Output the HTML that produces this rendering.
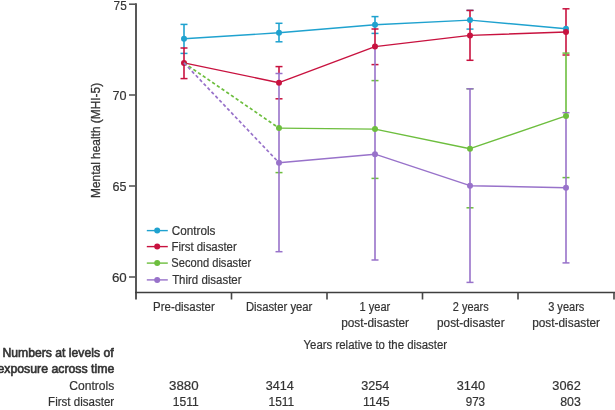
<!DOCTYPE html>
<html><head><meta charset="utf-8"><style>
html,body{margin:0;padding:0;background:#fff;}
body{width:615px;height:410px;overflow:hidden;font-family:"Liberation Sans",sans-serif;}
svg{display:block;will-change:transform;}
</style></head><body>
<svg width="615" height="410" viewBox="0 0 615 410">
<g stroke="#585858" fill="none">
<line x1="136" y1="3.2" x2="136" y2="299.5" stroke-width="2"/>
<line x1="129" y1="4.2" x2="136" y2="4.2" stroke-width="1.6"/>
<line x1="129" y1="95" x2="136" y2="95" stroke-width="1.6"/>
<line x1="129" y1="186" x2="136" y2="186" stroke-width="1.6"/>
<line x1="129" y1="277" x2="136" y2="277" stroke-width="1.6"/>
<line x1="135" y1="292.5" x2="615" y2="292.5" stroke-width="1.5" stroke="#3e3e3e"/>
<line x1="231.5" y1="292" x2="231.5" y2="299.5" stroke-width="1.6" stroke="#454545"/>
<line x1="327" y1="292" x2="327" y2="299.5" stroke-width="1.6" stroke="#454545"/>
<line x1="422.5" y1="292" x2="422.5" y2="299.5" stroke-width="1.6" stroke="#454545"/>
<line x1="518" y1="292" x2="518" y2="299.5" stroke-width="1.6" stroke="#454545"/>
<line x1="614" y1="292" x2="614" y2="299.5" stroke-width="1.6" stroke="#454545"/>
</g>
<text transform="translate(100.4,140.4) rotate(-90)" text-anchor="middle" font-family="Liberation Sans, sans-serif" font-size="12" fill="#333333" stroke="#333333" stroke-width="0.3" textLength="115" lengthAdjust="spacingAndGlyphs">Mental health (MHI-5)</text>
<line x1="184" y1="24.4" x2="184" y2="48.6" stroke="#1fa2cf" stroke-width="1.6"/><line x1="180.5" y1="24.4" x2="187.5" y2="24.4" stroke="#1fa2cf" stroke-width="1.5"/><line x1="180.5" y1="53.4" x2="187.5" y2="53.4" stroke="#1fa2cf" stroke-width="1.5"/><line x1="279" y1="23.3" x2="279" y2="41.8" stroke="#1fa2cf" stroke-width="1.6"/><line x1="275.5" y1="23.3" x2="282.5" y2="23.3" stroke="#1fa2cf" stroke-width="1.5"/><line x1="275.5" y1="41.8" x2="282.5" y2="41.8" stroke="#1fa2cf" stroke-width="1.5"/><line x1="375" y1="16.6" x2="375" y2="29.6" stroke="#1fa2cf" stroke-width="1.6"/><line x1="371.5" y1="16.6" x2="378.5" y2="16.6" stroke="#1fa2cf" stroke-width="1.5"/><line x1="371.5" y1="33.4" x2="378.5" y2="33.4" stroke="#1fa2cf" stroke-width="1.5"/><line x1="470" y1="10.4" x2="470" y2="11.0" stroke="#1fa2cf" stroke-width="1.6"/><line x1="466.5" y1="10.4" x2="473.5" y2="10.4" stroke="#1fa2cf" stroke-width="1.5"/><line x1="466.5" y1="29.1" x2="473.5" y2="29.1" stroke="#1fa2cf" stroke-width="1.5"/>
<line x1="184" y1="48.0" x2="184" y2="78.6" stroke="#c8123f" stroke-width="1.6"/><line x1="180.5" y1="48.0" x2="187.5" y2="48.0" stroke="#c8123f" stroke-width="1.5"/><line x1="180.5" y1="78.6" x2="187.5" y2="78.6" stroke="#c8123f" stroke-width="1.5"/><line x1="279" y1="66.6" x2="279" y2="74.1" stroke="#c8123f" stroke-width="1.6"/><line x1="275.5" y1="66.6" x2="282.5" y2="66.6" stroke="#c8123f" stroke-width="1.5"/><line x1="275.5" y1="98.8" x2="282.5" y2="98.8" stroke="#c8123f" stroke-width="1.5"/><line x1="375" y1="29.0" x2="375" y2="49.1" stroke="#c8123f" stroke-width="1.6"/><line x1="371.5" y1="29.0" x2="378.5" y2="29.0" stroke="#c8123f" stroke-width="1.5"/><line x1="371.5" y1="64.6" x2="378.5" y2="64.6" stroke="#c8123f" stroke-width="1.5"/><line x1="470" y1="10.4" x2="470" y2="60.3" stroke="#c8123f" stroke-width="1.6"/><line x1="466.5" y1="10.4" x2="473.5" y2="10.4" stroke="#c8123f" stroke-width="1.5"/><line x1="466.5" y1="60.3" x2="473.5" y2="60.3" stroke="#c8123f" stroke-width="1.5"/><line x1="566" y1="8.8" x2="566" y2="53.7" stroke="#c8123f" stroke-width="1.6"/><line x1="562.5" y1="8.8" x2="569.5" y2="8.8" stroke="#c8123f" stroke-width="1.5"/><line x1="562.5" y1="55.0" x2="569.5" y2="55.0" stroke="#c8123f" stroke-width="1.5"/>
<line x1="275.5" y1="172.6" x2="282.5" y2="172.6" stroke="#6dbe3e" stroke-width="1.5"/><line x1="371.5" y1="80.6" x2="378.5" y2="80.6" stroke="#6dbe3e" stroke-width="1.5"/><line x1="371.5" y1="178.4" x2="378.5" y2="178.4" stroke="#6dbe3e" stroke-width="1.5"/><line x1="470" y1="88.8" x2="470" y2="89.39999999999999" stroke="#6dbe3e" stroke-width="1.6"/><line x1="466.5" y1="88.8" x2="473.5" y2="88.8" stroke="#6dbe3e" stroke-width="1.5"/><line x1="466.5" y1="207.8" x2="473.5" y2="207.8" stroke="#6dbe3e" stroke-width="1.5"/><line x1="566" y1="53.1" x2="566" y2="113.3" stroke="#6dbe3e" stroke-width="1.6"/><line x1="562.5" y1="53.1" x2="569.5" y2="53.1" stroke="#6dbe3e" stroke-width="1.5"/><line x1="562.5" y1="177.6" x2="569.5" y2="177.6" stroke="#6dbe3e" stroke-width="1.5"/>
<line x1="279" y1="73.5" x2="279" y2="251.7" stroke="#9872ca" stroke-width="1.6"/><line x1="275.5" y1="73.5" x2="282.5" y2="73.5" stroke="#9872ca" stroke-width="1.5"/><line x1="275.5" y1="251.7" x2="282.5" y2="251.7" stroke="#9872ca" stroke-width="1.5"/><line x1="375" y1="48.5" x2="375" y2="260.0" stroke="#9872ca" stroke-width="1.6"/><line x1="371.5" y1="260.0" x2="378.5" y2="260.0" stroke="#9872ca" stroke-width="1.5"/><line x1="470" y1="88.8" x2="470" y2="282.4" stroke="#9872ca" stroke-width="1.6"/><line x1="466.5" y1="88.8" x2="473.5" y2="88.8" stroke="#9872ca" stroke-width="1.5"/><line x1="466.5" y1="282.4" x2="473.5" y2="282.4" stroke="#9872ca" stroke-width="1.5"/><line x1="566" y1="112.7" x2="566" y2="262.9" stroke="#9872ca" stroke-width="1.6"/><line x1="562.5" y1="112.7" x2="569.5" y2="112.7" stroke="#9872ca" stroke-width="1.5"/><line x1="562.5" y1="262.9" x2="569.5" y2="262.9" stroke="#9872ca" stroke-width="1.5"/>
<polyline fill="none" stroke="#1fa2cf" stroke-width="1.4" stroke-linejoin="round" points="184,38.7 279,32.8 375,24.7 470,20.1 566,28.7"/><circle cx="184" cy="38.7" r="3.0" fill="#1fa2cf"/><circle cx="279" cy="32.8" r="3.0" fill="#1fa2cf"/><circle cx="375" cy="24.7" r="3.0" fill="#1fa2cf"/><circle cx="470" cy="20.1" r="3.0" fill="#1fa2cf"/><circle cx="566" cy="28.7" r="3.0" fill="#1fa2cf"/>
<polyline fill="none" stroke="#c8123f" stroke-width="1.4" stroke-linejoin="round" points="184,62.9 279,82.7 375,46.6 470,35.4 566,32.0"/><circle cx="184" cy="62.9" r="3.0" fill="#c8123f"/><circle cx="279" cy="82.7" r="3.0" fill="#c8123f"/><circle cx="375" cy="46.6" r="3.0" fill="#c8123f"/><circle cx="470" cy="35.4" r="3.0" fill="#c8123f"/><circle cx="566" cy="32.0" r="3.0" fill="#c8123f"/>
<line x1="184" y1="62.9" x2="279" y2="128.1" stroke="#6dbe3e" stroke-width="1.7" stroke-dasharray="3.3 2.4"/><polyline fill="none" stroke="#6dbe3e" stroke-width="1.4" stroke-linejoin="round" points="279,128.1 375,129.1 470,148.7 566,115.9"/><circle cx="279" cy="128.1" r="3.0" fill="#6dbe3e"/><circle cx="375" cy="129.1" r="3.0" fill="#6dbe3e"/><circle cx="470" cy="148.7" r="3.0" fill="#6dbe3e"/><circle cx="566" cy="115.9" r="3.0" fill="#6dbe3e"/>
<line x1="184" y1="62.9" x2="279" y2="162.7" stroke="#9872ca" stroke-width="1.7" stroke-dasharray="3.3 2.4"/><polyline fill="none" stroke="#9872ca" stroke-width="1.4" stroke-linejoin="round" points="279,162.7 375,154.2 470,185.7 566,187.8"/><circle cx="279" cy="162.7" r="3.0" fill="#9872ca"/><circle cx="375" cy="154.2" r="3.0" fill="#9872ca"/><circle cx="470" cy="185.7" r="3.0" fill="#9872ca"/><circle cx="566" cy="187.8" r="3.0" fill="#9872ca"/>
<line x1="146.8" y1="230.6" x2="167.8" y2="230.6" stroke="#1fa2cf" stroke-width="1.4"/>
<circle cx="157.2" cy="230.6" r="3.0" fill="#1fa2cf"/>
<line x1="146.8" y1="246.6" x2="167.8" y2="246.6" stroke="#c8123f" stroke-width="1.4"/>
<circle cx="157.2" cy="246.6" r="3.0" fill="#c8123f"/>
<line x1="146.8" y1="263.1" x2="167.8" y2="263.1" stroke="#6dbe3e" stroke-width="1.4"/>
<circle cx="157.2" cy="263.1" r="3.0" fill="#6dbe3e"/>
<line x1="146.8" y1="279.9" x2="167.8" y2="279.9" stroke="#9872ca" stroke-width="1.4"/>
<circle cx="157.2" cy="279.9" r="3.0" fill="#9872ca"/>
<g font-family="Liberation Sans, sans-serif" fill="#333333" stroke="#333333" stroke-width="0.2">
<text x="113.62" y="10.0" font-size="13.5" textLength="13.14" lengthAdjust="spacingAndGlyphs">75</text>
<text x="112.59" y="100.0" font-size="13.5" textLength="14.03" lengthAdjust="spacingAndGlyphs">70</text>
<text x="112.56" y="191.0" font-size="13.5" textLength="13.99" lengthAdjust="spacingAndGlyphs">65</text>
<text x="111.91" y="281.5" font-size="13.5" textLength="14.83" lengthAdjust="spacingAndGlyphs">60</text>
<text x="171.66" y="234.5" font-size="12.5" textLength="43.83" lengthAdjust="spacingAndGlyphs">Controls</text>
<text x="171.42" y="250.6" font-size="12.5" textLength="65.30" lengthAdjust="spacingAndGlyphs">First disaster</text>
<text x="171.37" y="266.8" font-size="12.5" textLength="79.79" lengthAdjust="spacingAndGlyphs">Second disaster</text>
<text x="172.14" y="283.5" font-size="12.5" textLength="69.39" lengthAdjust="spacingAndGlyphs">Third disaster</text>
<text x="153.11" y="310.6" font-size="12" textLength="61.58" lengthAdjust="spacingAndGlyphs">Pre-disaster</text>
<text x="245.93" y="310.6" font-size="12" textLength="66.42" lengthAdjust="spacingAndGlyphs">Disaster year</text>
<text x="359.51" y="310.6" font-size="12" textLength="30.77" lengthAdjust="spacingAndGlyphs">1 year</text>
<text x="341.14" y="326.6" font-size="12" textLength="67.88" lengthAdjust="spacingAndGlyphs">post-disaster</text>
<text x="452.86" y="310.6" font-size="12" textLength="35.77" lengthAdjust="spacingAndGlyphs">2 years</text>
<text x="437.05" y="326.6" font-size="12" textLength="67.58" lengthAdjust="spacingAndGlyphs">post-disaster</text>
<text x="548.18" y="310.6" font-size="12" textLength="36.17" lengthAdjust="spacingAndGlyphs">3 years</text>
<text x="532.13" y="326.6" font-size="12" textLength="67.90" lengthAdjust="spacingAndGlyphs">post-disaster</text>
<text x="303.52" y="348.6" font-size="12" textLength="143.65" lengthAdjust="spacingAndGlyphs">Years relative to the disaster</text>
<text x="2.54" y="357.0" font-size="12" stroke-width="0.6" textLength="111.04" lengthAdjust="spacingAndGlyphs">Numbers at levels of</text>
<text x="-2.60" y="373.3" font-size="12" stroke-width="0.6" textLength="116.90" lengthAdjust="spacingAndGlyphs">exposure across time</text>
<text x="69.30" y="389.5" font-size="12" textLength="45.00" lengthAdjust="spacingAndGlyphs">Controls</text>
<text x="48.08" y="405.6" font-size="12" textLength="66.07" lengthAdjust="spacingAndGlyphs">First disaster</text>
<text x="169.00" y="390.0" font-size="12" textLength="29.59" lengthAdjust="spacingAndGlyphs">3880</text>
<text x="265.79" y="390.0" font-size="12" textLength="28.05" lengthAdjust="spacingAndGlyphs">3414</text>
<text x="361.26" y="390.0" font-size="12" textLength="28.04" lengthAdjust="spacingAndGlyphs">3254</text>
<text x="456.79" y="390.0" font-size="12" textLength="28.26" lengthAdjust="spacingAndGlyphs">3140</text>
<text x="552.37" y="390.0" font-size="12" textLength="28.41" lengthAdjust="spacingAndGlyphs">3062</text>
<text x="172.72" y="406.4" font-size="12" textLength="25.93" lengthAdjust="spacingAndGlyphs">1511</text>
<text x="268.56" y="406.4" font-size="12" textLength="25.65" lengthAdjust="spacingAndGlyphs">1511</text>
<text x="363.02" y="406.4" font-size="12" textLength="26.49" lengthAdjust="spacingAndGlyphs">1145</text>
<text x="465.76" y="406.4" font-size="12" textLength="19.32" lengthAdjust="spacingAndGlyphs">973</text>
<text x="560.26" y="406.4" font-size="12" textLength="20.57" lengthAdjust="spacingAndGlyphs">803</text>
</g>
</svg>
</body></html>
